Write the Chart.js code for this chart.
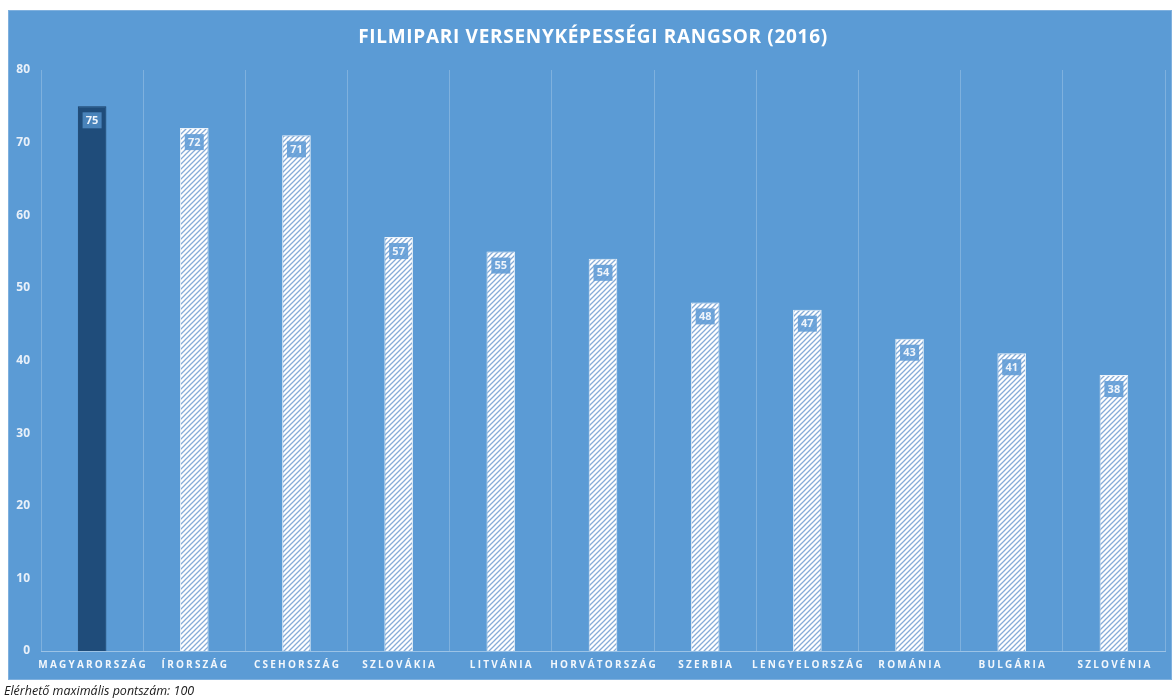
<!DOCTYPE html>
<html>
<head>
<meta charset="utf-8">
<script src="https://cdn.jsdelivr.net/npm/chart.js@4/dist/chart.umd.min.js"></script>
<style>
  body { margin: 0; background: #fff; }
  canvas { display: block; }
</style>
</head>
<body>
<canvas id="c" width="1172" height="700"></canvas>
<script>
const countries = ['MAGYARORSZÁG', 'ÍRORSZÁG', 'CSEHORSZÁG', 'SZLOVÁKIA', 'LITVÁNIA', 'HORVÁTORSZÁG',
  'SZERBIA', 'LENGYELORSZÁG', 'ROMÁNIA', 'BULGÁRIA', 'SZLOVÉNIA'];
const scores = [75, 72, 71, 57, 55, 54, 48, 47, 43, 41, 38];
const yTicks = [0, 10, 20, 30, 40, 50, 60, 70, 80];
const title = 'FILMIPARI VERSENYKÉPESSÉGI RANGSOR (2016)';
const footnote = 'Elérhető maximális pontszám: 100';

function hatch() {
  const s = 5;
  const c = document.createElement('canvas');
  c.width = s; c.height = s;
  const g = c.getContext('2d');
  g.fillStyle = '#ffffff';
  g.fillRect(0, 0, s, s);
  g.strokeStyle = '#86acd8';
  g.lineWidth = 1.3;
  g.beginPath();
  g.moveTo(0, s); g.lineTo(s, 0);
  g.moveTo(-1, 1); g.lineTo(1, -1);
  g.moveTo(s - 1, s + 1); g.lineTo(s + 1, s - 1);
  g.stroke();
  return g.createPattern(c, 'repeat');
}

const ctx = document.getElementById('c').getContext('2d');
const pattern = hatch();

const decor = {
  id: 'decor',
  beforeDraw(chart) {
    const c = chart.ctx;
    c.save();
    c.fillStyle = '#5b9bd5';
    c.fillRect(8, 10, 1164, 670);
    c.strokeStyle = '#7fb0de';
    c.lineWidth = 1;
    c.strokeRect(8.5, 10.5, 1163, 669);
    c.restore();
  },
  afterDatasetsDraw(chart) {
    const c = chart.ctx;
    const meta = chart.getDatasetMeta(0);
    c.save();
    c.font = 'bold 11px "Open Sans"';
    c.textAlign = 'center';
    c.textBaseline = 'middle';
    meta.data.forEach((bar, i) => {
      const w = 19, h = 16;
      const top = bar.y + 6;
      c.fillStyle = i === 0 ? 'rgba(91,155,213,0.7)' : 'rgba(98,156,214,0.9)';
      c.fillRect(bar.x - w / 2, top, w, h);
      c.fillStyle = '#eef4fb';
      c.fillText(String(scores[i]), bar.x, top + h / 2 + 0.5);
    });
    c.restore();
  },
  afterDraw(chart) {
    const c = chart.ctx;
    const x = chart.scales.x;
    c.save();
    c.fillStyle = '#ffffff';
    c.textAlign = 'center';
    c.textBaseline = 'middle';
    c.font = 'bold 19px "Open Sans"';
    c.letterSpacing = '0.7px';
    c.fillText(title, 593, 38);
    c.font = 'bold 10px "Open Sans"';
    c.letterSpacing = '2.2px';
    c.fillStyle = '#f2f7fc';
    countries.forEach((name, i) => {
      c.fillText(name, x.getPixelForValue(i) + 1.1, 665);
    });
    c.letterSpacing = '0px';
    c.textAlign = 'left';
    c.fillStyle = '#1a1a1a';
    c.font = 'italic 12.5px "Open Sans"';
    c.fillText(footnote, 4, 691);
    c.restore();
  }
};

new Chart(ctx, {
  type: 'bar',
  data: {
    labels: countries,
    datasets: [
      {
        data: scores,
        backgroundColor: scores.map((v, i) => (i === 0 ? '#1f4c7a' : pattern)),
        borderColor: scores.map((v, i) => (i === 0 ? '#173d63' : '#e9f1f9')),
        borderWidth: 1,
        barPercentage: 0.28,
        categoryPercentage: 1
      }
    ]
  },
  options: {
    responsive: false,
    animation: false,
    layout: { padding: { top: 70, left: 0, right: 7, bottom: 19 } },
    plugins: {
      legend: { display: false },
      tooltip: { enabled: false }
    },
    scales: {
      x: {
        afterFit(scale) { scale.height = 30; },
        grid: { color: 'rgba(255,255,255,0.22)', drawTicks: false, offset: true },
        border: { color: 'rgba(255,255,255,0.4)' },
        ticks: { display: false }
      },
      y: {
        min: 0,
        max: 80,
        afterFit(scale) { scale.width = 41; },
        afterBuildTicks(scale) { scale.ticks = yTicks.map(v => ({ value: v })); },
        grid: { display: false, drawTicks: false },
        border: { display: false },
        ticks: {
          padding: 11,
          color: '#e8f0f9',
          font: { family: 'Open Sans', size: 12, weight: 'bold' }
        }
      }
    }
  },
  plugins: [decor]
});
</script>
</body>
</html>
